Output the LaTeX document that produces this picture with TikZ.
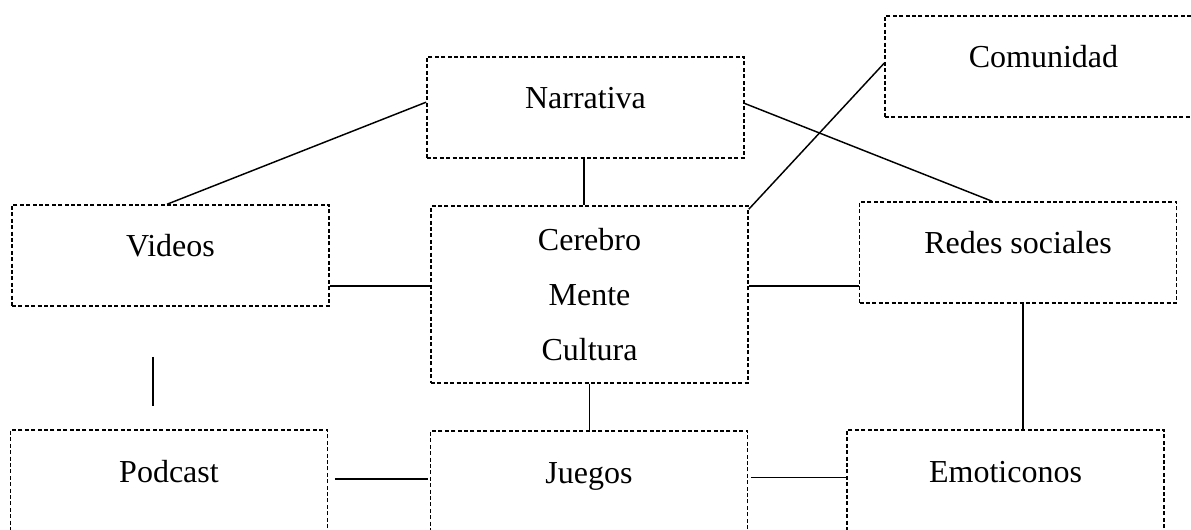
\documentclass[tikz,border=0pt]{standalone}
\usepackage{fontspec}
\setmainfont{Liberation Serif}

\begin{document}
\begin{tikzpicture}[x=0.75pt,y=-0.75pt,
  caja/.style={draw, line width=1.2pt, dash pattern=on 3pt off 1.8pt,
    minimum width=237.75pt, minimum height=75.75pt, inner ysep=0pt,
    text height=39pt, text depth=36.75pt, font=\fontsize{24}{41}\selectfont},
  cajacentro/.style={draw, line width=1.2pt, dash pattern=on 3pt off 1.8pt,
    minimum width=237.75pt, minimum height=132.75pt, align=center,
    font=\fontsize{24}{41}\selectfont},
  linea/.style={line width=1.1pt}]

\useasboundingbox (0,0) rectangle (1191,530);

%% fila de arriba
\node[caja] (narrativa) at (585.5,107.5) {Narrativa};
\node[caja] (comunidad) at (1043.5,66.5) {Comunidad};

%% fila del medio
\node[caja] (videos) at (170.5,255.5) {Videos};
\node[cajacentro] (cerebro) at (589.5,294.5) {Cerebro\\Mente\\Cultura};
\node[caja] (redes) at (1018,252.5) {Redes sociales};

%% fila de abajo
\node[caja] (podcast) at (169,480.5) {Podcast};
\node[caja] (juegos) at (589,481.5) {Juegos};
\node[caja] (emoticonos) at (1005.5,480.5) {Emoticonos};

%% conexiones
\draw[linea] ([yshift=4pt]narrativa.west) -- ([xshift=-2.5pt]videos.north);
\draw[linea] ([yshift=3pt]narrativa.east) -- ([xshift=-19.5pt]redes.north);
\draw[linea] ([xshift=-1pt]narrativa.south) -- ([xshift=-1pt]narrativa.south |- cerebro.north);
\draw[linea] ([yshift=2.5pt]comunidad.west) -- ([yshift=-3pt]cerebro.north east);

\draw[linea] ([yshift=-23pt]videos.east) -- ([yshift=-23pt]videos.east -| cerebro.west);
\draw[linea] ([yshift=-25pt]redes.west) -- ([yshift=-25pt]redes.west -| cerebro.east);

\draw[linea, shorten <=37.5pt, shorten >=17.25pt]
  ([xshift=-13pt]videos.south) -- ([xshift=-13pt]videos.south |- podcast.north);
\draw[linea] ([xshift=3.75pt]redes.south) -- ([xshift=3.75pt]redes.south |- emoticonos.north);
\draw[linea] (cerebro.south) -- (cerebro.south |- juegos.north);

%%
\draw[linea, shorten <=5pt, shorten >=1.5pt]
  ([yshift=1pt]podcast.east) -- ([yshift=1pt]podcast.east -| juegos.west);
\draw[linea, shorten <=2pt]
  ([yshift=3pt]juegos.east) -- ([yshift=3pt]juegos.east -| emoticonos.west);

\end{tikzpicture}
\end{document}
